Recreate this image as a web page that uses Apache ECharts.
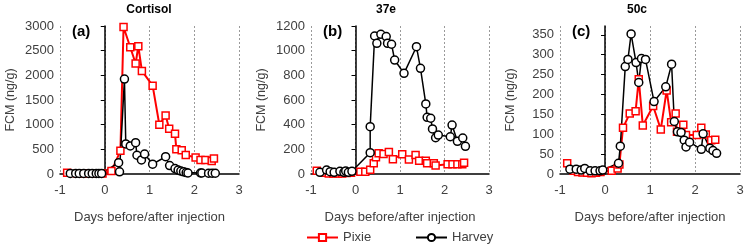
<!DOCTYPE html>
<html><head><meta charset="utf-8">
<script src="https://cdn.jsdelivr.net/npm/echarts@6/dist/echarts.min.js"></script>
<style>html,body{margin:0;padding:0;background:#fff}#c{width:748px;height:249px}</style>
</head><body><div id="c"></div>
<script>
// ---- data ----
var panelTitles = ['Cortisol', '37e', '50c'];
var panelTags = ['(a)', '(b)', '(c)'];
var seriesNames = ['Pixie', 'Harvey'];
var xTicks = [-1, 0, 1, 2, 3];
var yMaxA = 3000, yStepA = 500;
var yMaxB = 1200, yStepB = 200;
var yMaxC = 372, yStepC = 50;
var yTicksC = [0, 50, 100, 150, 200, 250, 300, 350];

var cortisolPixie = [[-0.84,25],[-0.62,10],[-0.52,8],[-0.45,12],[-0.35,10],[-0.27,8],[-0.18,10],[-0.1,10],[-0.05,8],[0.15,60],[0.35,470],[0.42,2980],[0.57,2570],[0.69,2240],[0.75,2590],[0.83,2090],[1.07,1790],[1.22,1000],[1.36,1185],[1.44,915],[1.57,815],[1.60,500],[1.72,480],[1.81,385],[2.03,335],[2.14,285],[2.25,285],[2.39,265],[2.44,315]];
var cortisolHarvey = [[-0.77,12],[-0.65,12],[-0.57,12],[-0.47,12],[-0.36,12],[-0.28,12],[-0.19,12],[-0.13,12],[-0.07,12],[0.31,230],[0.33,45],[0.44,1925],[0.47,610],[0.57,570],[0.69,635],[0.72,380],[0.82,285],[0.89,405],[1.07,200],[1.36,350],[1.45,170],[1.57,110],[1.64,80],[1.70,60],[1.76,45],[1.82,30],[1.86,20],[2.14,20],[2.17,20],[2.32,15],[2.40,15],[2.47,15]];

var e37Pixie = [[-0.87,27],[-0.7,10],[-0.6,5],[-0.5,5],[-0.4,5],[-0.3,5],[-0.2,8],[-0.1,10],[0.11,19],[0.22,19],[0.33,35],[0.41,87],[0.46,135],[0.52,168],[0.63,162],[0.75,178],[0.84,120],[1.05,160],[1.20,118],[1.35,154],[1.43,108],[1.58,108],[1.61,87],[1.76,87],[1.80,68],[2.07,80],[2.18,80],[2.29,80],[2.40,80],[2.44,92]];
var e37Harvey = [[-0.80,14],[-0.65,32],[-0.57,19],[-0.48,14],[-0.35,22],[-0.26,14],[-0.22,24],[-0.16,14],[-0.08,22],[0.33,173],[0.33,384],[0.43,1119],[0.48,1060],[0.57,1133],[0.69,1114],[0.72,1060],[0.81,1052],[0.88,924],[1.09,816],[1.37,1032],[1.46,857],[1.58,568],[1.61,460],[1.69,452],[1.73,365],[1.80,294],[1.86,316],[2.13,302],[2.17,397],[2.29,265],[2.41,292],[2.47,224]];

var c50Pixie = [[-0.84,27],[-0.7,8],[-0.6,5],[-0.5,4],[-0.4,3],[-0.3,2],[-0.2,3],[-0.1,5],[0.15,8],[0.28,14],[0.32,24],[0.40,116],[0.55,152],[0.68,158],[0.75,238],[0.84,122],[1.07,171],[1.24,112],[1.37,210],[1.47,130],[1.57,152],[1.60,106],[1.74,124],[1.80,98],[2.04,98],[2.14,116],[2.24,99],[2.36,85],[2.45,86]];
var c50Harvey = [[-0.78,12],[-0.64,12],[-0.53,10],[-0.45,14],[-0.33,8],[-0.22,8],[-0.11,8],[-0.05,10],[0.30,27],[0.34,70],[0.45,270],[0.51,288],[0.58,352],[0.69,280],[0.75,230],[0.81,290],[0.90,288],[1.09,182],[1.35,219],[1.48,276],[1.54,132],[1.61,106],[1.69,104],[1.76,85],[1.80,68],[1.88,80],[2.14,62],[2.18,101],[2.33,65],[2.40,59],[2.48,52]];

// ---- layout ----
var FONT = 'Liberation Sans';
var grids = [
  {left: 60, top: 26, width: 179, height: 148},
  {left: 311, top: 26, width: 178, height: 148},
  {left: 560, top: 26, width: 180, height: 148}
];
var titleCenters = [149, 386, 637];
var yCfg = [
  {max: yMaxA, interval: yStepA},
  {max: yMaxB, interval: yStepB},
  {max: yMaxC, interval: yStepC, custom: yTicksC}
];
var pixieData = [cortisolPixie, e37Pixie, c50Pixie];
var harveyData = [cortisolHarvey, e37Harvey, c50Harvey];
function plain(v) { return String(v); }

var option = {
  animation: false,
  backgroundColor: '#fff',
  grid: grids,
  title: [], xAxis: [], yAxis: [], series: [],
  legend: [
    {data: ['Pixie'], left: 306, top: 231, itemWidth: 31, itemHeight: 9, padding: 0,
     textStyle: {fontFamily: FONT, fontSize: 13, color: '#404040'}},
    {data: ['Harvey'], left: 415, top: 231, itemWidth: 31, itemHeight: 9, padding: 0,
     textStyle: {fontFamily: FONT, fontSize: 13, color: '#404040'}}
  ]
};

for (var i = 0; i < 3; i++) {
  var g = grids[i];
  option.title.push({text: panelTitles[i], left: titleCenters[i], top: 4, textAlign: 'center', padding: 0,
    textStyle: {fontFamily: FONT, fontSize: 12, fontWeight: 'bold', color: '#000'}});
  option.title.push({text: panelTags[i], left: g.left + 12, top: 24, padding: 0,
    textStyle: {fontFamily: FONT, fontSize: 15, fontWeight: 'bold', color: '#000'}});
  option.xAxis.push({
    type: 'value', gridIndex: i, min: xTicks[0], max: xTicks[xTicks.length - 1], interval: 1,
    name: 'Days before/after injection', nameLocation: 'middle', nameGap: 37,
    nameTextStyle: {fontFamily: FONT, fontSize: 13, color: '#404040'},
    axisLine: {show: true, onZero: false, lineStyle: {color: '#000', width: 1.5}},
    axisTick: {show: false},
    axisLabel: {fontFamily: FONT, fontSize: 13, color: '#404040', margin: 10, formatter: plain},
    splitLine: {show: true, lineStyle: {color: '#9a9a9a', type: [2, 2], width: 1}}
  });
  var yc = yCfg[i];
  var ya = {
    type: 'value', gridIndex: i, min: 0, max: yc.max, interval: yc.interval,
    name: 'FCM (ng/g)', nameLocation: 'middle', nameGap: 43, nameRotate: 90,
    nameTextStyle: {fontFamily: FONT, fontSize: 12.5, color: '#404040'},
    axisLine: {show: true, lineStyle: {color: '#000', width: 1.5}},
    axisTick: {show: true, length: 4, lineStyle: {color: '#000', width: 1}},
    axisLabel: {fontFamily: FONT, fontSize: 13, color: '#404040', margin: 6, formatter: plain},
    splitLine: {show: false}
  };
  if (yc.custom) {
    ya.axisLabel.customValues = yc.custom;
    ya.axisTick.customValues = yc.custom;
  }
  option.yAxis.push(ya);
  option.series.push({
    name: seriesNames[0], type: 'line', xAxisIndex: i, yAxisIndex: i, data: pixieData[i],
    symbol: 'rect', symbolSize: 7, showAllSymbol: true,
    lineStyle: {color: '#ff0000', width: 2},
    itemStyle: {color: '#fff', borderColor: '#ff0000', borderWidth: 1.5},
    emphasis: {disabled: true}
  });
  option.series.push({
    name: seriesNames[1], type: 'line', xAxisIndex: i, yAxisIndex: i, data: harveyData[i],
    symbol: 'circle', symbolSize: 8, showAllSymbol: true,
    lineStyle: {color: '#000', width: 1.5},
    itemStyle: {color: '#fff', borderColor: '#000', borderWidth: 1.5},
    emphasis: {disabled: true}
  });
}

var chart = echarts.init(document.getElementById('c'), null, {renderer: 'canvas'});
chart.setOption(option);
</script></body></html>
